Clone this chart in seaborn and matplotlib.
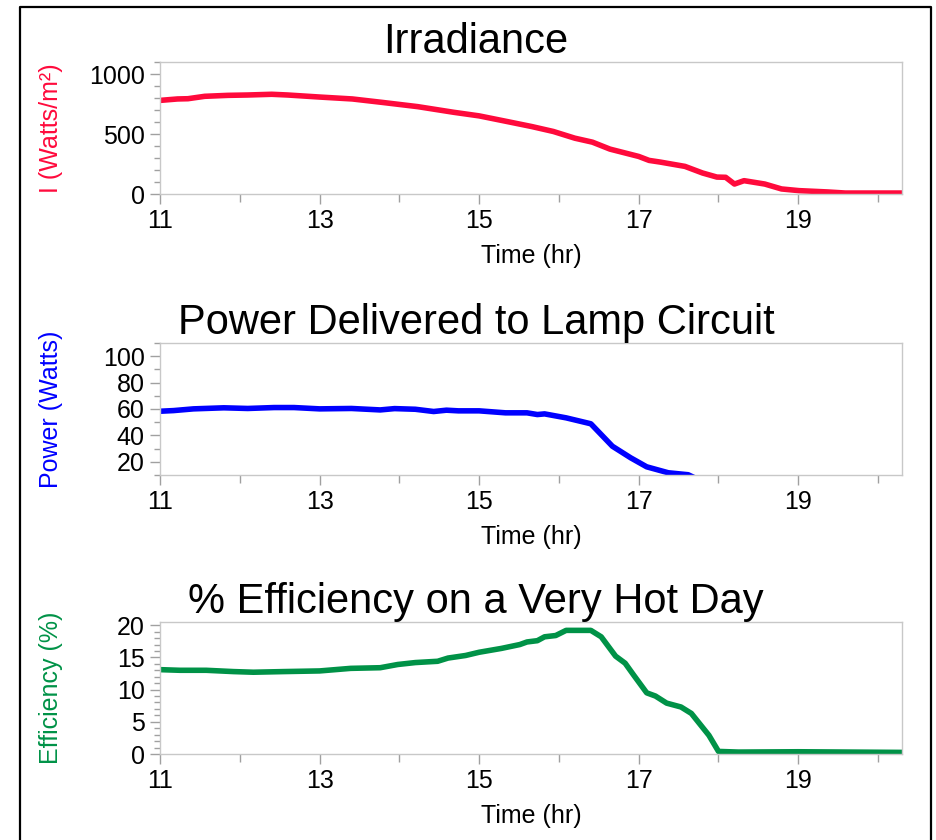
import matplotlib
matplotlib.use("Agg")
import matplotlib.pyplot as plt
from matplotlib.lines import Line2D
from matplotlib.ticker import MultipleLocator
import pandas as pd
import seaborn as sns

sns.set_theme(style="white")
plt.rcParams["font.family"] = ["Liberation Sans", "DejaVu Sans"]

# Irradiance (W/m^2) vs time (hr)
irr_time = [11.0, 11.22, 11.35, 11.56, 11.85, 12.1, 12.4, 12.6, 13.0, 13.41, 13.79,
            14.23, 14.68, 15.0, 15.35, 15.66, 15.93, 16.2, 16.42, 16.64, 17.0, 17.13,
            17.27, 17.58, 17.8, 17.98, 18.09, 18.2, 18.32, 18.58, 18.79, 19.01, 19.37,
            19.59, 20.3]
irr_vals = [780, 792, 794, 814, 822, 825, 831, 825, 808, 792, 763,
            728, 681, 651, 604, 562, 521, 465, 432, 374, 313, 280,
            266, 230, 175, 141, 139, 83, 111, 83, 42, 28, 17,
            8, 8]

# Power delivered to lamp circuit (W)
pow_time = [11.0, 11.17, 11.42, 11.8, 12.1, 12.43, 12.68, 13.0, 13.4, 13.76, 13.94,
            14.2, 14.43, 14.59, 14.74, 15.0, 15.33, 15.6, 15.73, 15.82, 16.09, 16.4,
            16.67, 16.9, 17.1, 17.37, 17.62, 17.8, 18.0, 18.5, 20.3]
pow_vals = [58.3, 58.8, 60.1, 60.9, 60.4, 61.1, 61.1, 60.1, 60.4, 59.3, 60.3,
            59.8, 58.1, 59.1, 58.6, 58.6, 57.1, 57.1, 55.8, 56.3, 53.3, 48.8,
            31.8, 23.0, 16.2, 11.7, 10.2, 5.0, 2.0, 0.0, 0.0]

# Efficiency (%)
eff_time = [11.0, 11.25, 11.58, 11.92, 12.17, 12.55, 13.0, 13.39, 13.76, 13.98, 14.2,
            14.48, 14.61, 14.83, 15.0, 15.28, 15.51, 15.6, 15.73, 15.82, 15.96, 16.09,
            16.4, 16.53, 16.71, 16.83, 16.94, 17.1, 17.21, 17.35, 17.53, 17.66, 17.88,
            18.0, 18.25, 19.0, 20.3]
eff_vals = [13.1, 13.0, 13.0, 12.8, 12.7, 12.8, 12.9, 13.3, 13.4, 13.9, 14.2,
            14.4, 14.9, 15.3, 15.8, 16.4, 17.0, 17.4, 17.6, 18.2, 18.4, 19.2,
            19.2, 18.2, 15.2, 14.1, 12.2, 9.5, 9.0, 7.9, 7.3, 6.3, 2.9,
            0.4, 0.3, 0.35, 0.25]

RED = "#ff0a3c"
BLUE = "#0000ff"
GREEN = "#009247"

W, H = 937, 840
fig = plt.figure(figsize=(W / 100, H / 100), dpi=100)


def box(top, bottom):
    return [160 / W, 1 - bottom / H, 742 / W, (bottom - top) / H]


panels = [
    dict(t=irr_time, v=irr_vals, color=RED, title="Irradiance", ylabel="I (Watts/m²)",
         ylim=(0, 1100), major=500, minor=100, top=62, bottom=194),
    dict(t=pow_time, v=pow_vals, color=BLUE, title="Power Delivered to Lamp Circuit",
         ylabel="Power (Watts)", ylim=(10, 110), major=20, minor=10, top=343, bottom=475),
    dict(t=eff_time, v=eff_vals, color=GREEN, title="% Efficiency on a Very Hot Day",
         ylabel="Efficiency (%)", ylim=(0, 20.5), major=5, minor=1, top=622, bottom=754),
]

for p in panels:
    ax = fig.add_axes(box(p["top"], p["bottom"]))
    df = pd.DataFrame({"time": p["t"], "val": p["v"]})
    sns.lineplot(data=df, x="time", y="val", color=p["color"], linewidth=4, ax=ax)
    ax.set_xlim(11, 20.3)
    ax.set_ylim(*p["ylim"])
    ax.xaxis.set_major_locator(MultipleLocator(2, offset=1))
    ax.xaxis.set_minor_locator(MultipleLocator(1))
    ax.yaxis.set_major_locator(MultipleLocator(p["major"]))
    ax.yaxis.set_minor_locator(MultipleLocator(p["minor"]))
    if p["ylim"][0] == 10:
        ax.set_yticks([20, 40, 60, 80, 100])
    ax.tick_params(which="both", direction="out", color="#a0a0a0", labelsize=18,
                   labelcolor="black", bottom=True, left=True, width=1)
    ax.tick_params(which="major", length=7, pad=4)
    ax.tick_params(which="minor", length=4)
    ax.tick_params(axis="x", which="minor", length=6)
    for s in ax.spines.values():
        s.set_color("#c8c8c8")
        s.set_linewidth(1)
    # titles are centred on the page rather than on the axes
    ax.set_title(p["title"], fontsize=30, pad=6, color="black", x=(476 - 160) / 742)
    ax.set_xlabel("Time (hr)", fontsize=18, labelpad=8, color="black")
    ax.set_ylabel(p["ylabel"], fontsize=18, color=p["color"])
    ax.yaxis.set_label_coords(-0.131, 0.5)

# outer frame
fx = [20 / W, 20 / W, 931 / W, 931 / W]
fy = [0, 1 - 7 / H, 1 - 7 / H, 0]
fig.add_artist(Line2D(fx, fy, color="black", linewidth=1.6, transform=fig.transFigure))

fig.savefig("out.png", dpi=100)
